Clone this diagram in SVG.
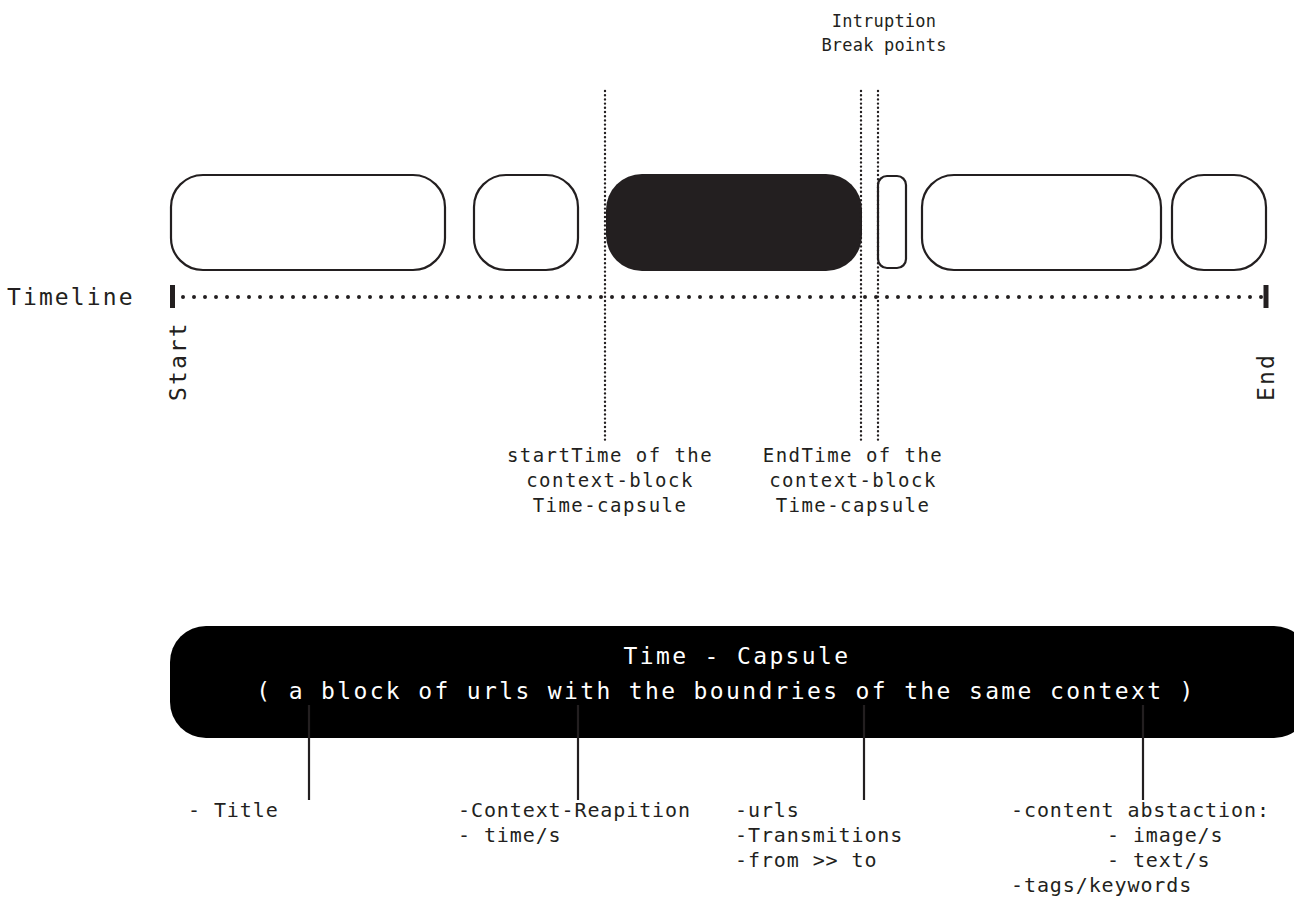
<svg xmlns="http://www.w3.org/2000/svg" width="1294" height="899" viewBox="0 0 1294 899">
<style>
.t{font-family:"DejaVu Sans Mono","Liberation Mono",monospace;fill:#231f20}
.sm{font-size:19px;letter-spacing:1.45px}
.bt{font-size:20px;letter-spacing:0.9px}
.lg{font-size:23px;letter-spacing:2.1px}
.cap{font-size:23px;letter-spacing:2.35px}
.top{font-size:17px;letter-spacing:0.2px}
.w{fill:#fff}
.box{fill:#fff;stroke:#231f20;stroke-width:2.2}
.vdot{stroke:#231f20;stroke-width:2.4;stroke-dasharray:0 4.2;stroke-linecap:round;fill:none}
.hdot{stroke:#231f20;stroke-width:4;stroke-dasharray:0 11;stroke-linecap:round;fill:none}
.tick{stroke:#231f20;stroke-width:5}
.lead{stroke:#231f20;stroke-width:2.2}
</style>
<rect width="1294" height="899" fill="#fff"/>
<g id="blocks">
<rect id="block1" class="box" x="171" y="175" width="274" height="95" rx="32"/>
<rect id="block2" class="box" x="474" y="175" width="104" height="95" rx="32"/>
<rect id="block3" x="606" y="174" width="256" height="97" rx="36" fill="#231f20"/>
<rect id="block4" class="box" x="878" y="176" width="28" height="92" rx="9"/>
<rect id="block5" class="box" x="922" y="175" width="239" height="95" rx="32"/>
<rect id="block6" class="box" x="1172" y="175" width="94" height="95" rx="32"/>
</g>
<g id="connectors">
<line class="vdot" x1="605" y1="91" x2="605" y2="440"/>
<line class="vdot" x1="861" y1="91" x2="861" y2="440"/>
<line class="vdot" x1="878" y1="91" x2="878" y2="440"/>
<line class="hdot" x1="183" y1="297" x2="1262" y2="297"/>
<line class="tick" x1="172.5" y1="285" x2="172.5" y2="308"/>
<line class="tick" x1="1266" y1="285" x2="1266" y2="308"/>
</g>
<g id="labels">
<text class="t top" x="884" y="27" text-anchor="middle">Intruption</text>
<text class="t top" x="884" y="51" text-anchor="middle">Break points</text>
<text class="t lg" x="7" y="305">Timeline</text>
<text class="t lg" transform="translate(186,401) rotate(-90)">Start</text>
<text class="t lg" transform="translate(1274,401) rotate(-90)">End</text>
<text class="t sm" x="610" y="462" text-anchor="middle">startTime of the</text>
<text class="t sm" x="610" y="487" text-anchor="middle">context-block</text>
<text class="t sm" x="610" y="512" text-anchor="middle">Time-capsule</text>
<text class="t sm" x="853" y="462" text-anchor="middle">EndTime of the</text>
<text class="t sm" x="853" y="487" text-anchor="middle">context-block</text>
<text class="t sm" x="853" y="512" text-anchor="middle">Time-capsule</text>
</g>
<g id="capsule">
<rect x="170" y="626" width="1140" height="112" rx="36" fill="#000"/>
<text class="t cap w" x="737" y="664" text-anchor="middle">Time - Capsule</text>
<text class="t cap w" x="726" y="699" text-anchor="middle">( a block of urls with the boundries of the same context )</text>
</g>
<g id="leaders">
<line class="lead" x1="309" y1="705" x2="309" y2="800"/>
<line class="lead" x1="578" y1="705" x2="578" y2="800"/>
<line class="lead" x1="864" y1="705" x2="864" y2="800"/>
<line class="lead" x1="1143" y1="705" x2="1143" y2="800"/>
</g>
<g id="details">
<text class="t bt" x="188" y="817">- Title</text>
<text class="t bt" x="458" y="817">-Context-Reapition</text>
<text class="t bt" x="458" y="842">- time/s</text>
<text class="t bt" x="735" y="817">-urls</text>
<text class="t bt" x="735" y="842">-Transmitions</text>
<text class="t bt" x="735" y="867">-from &gt;&gt; to</text>
<text class="t bt" x="1011" y="817">-content abstaction:</text>
<text class="t bt" x="1107" y="842">- image/s</text>
<text class="t bt" x="1107" y="867">- text/s</text>
<text class="t bt" x="1011" y="892">-tags/keywords</text>
</g>
</svg>
